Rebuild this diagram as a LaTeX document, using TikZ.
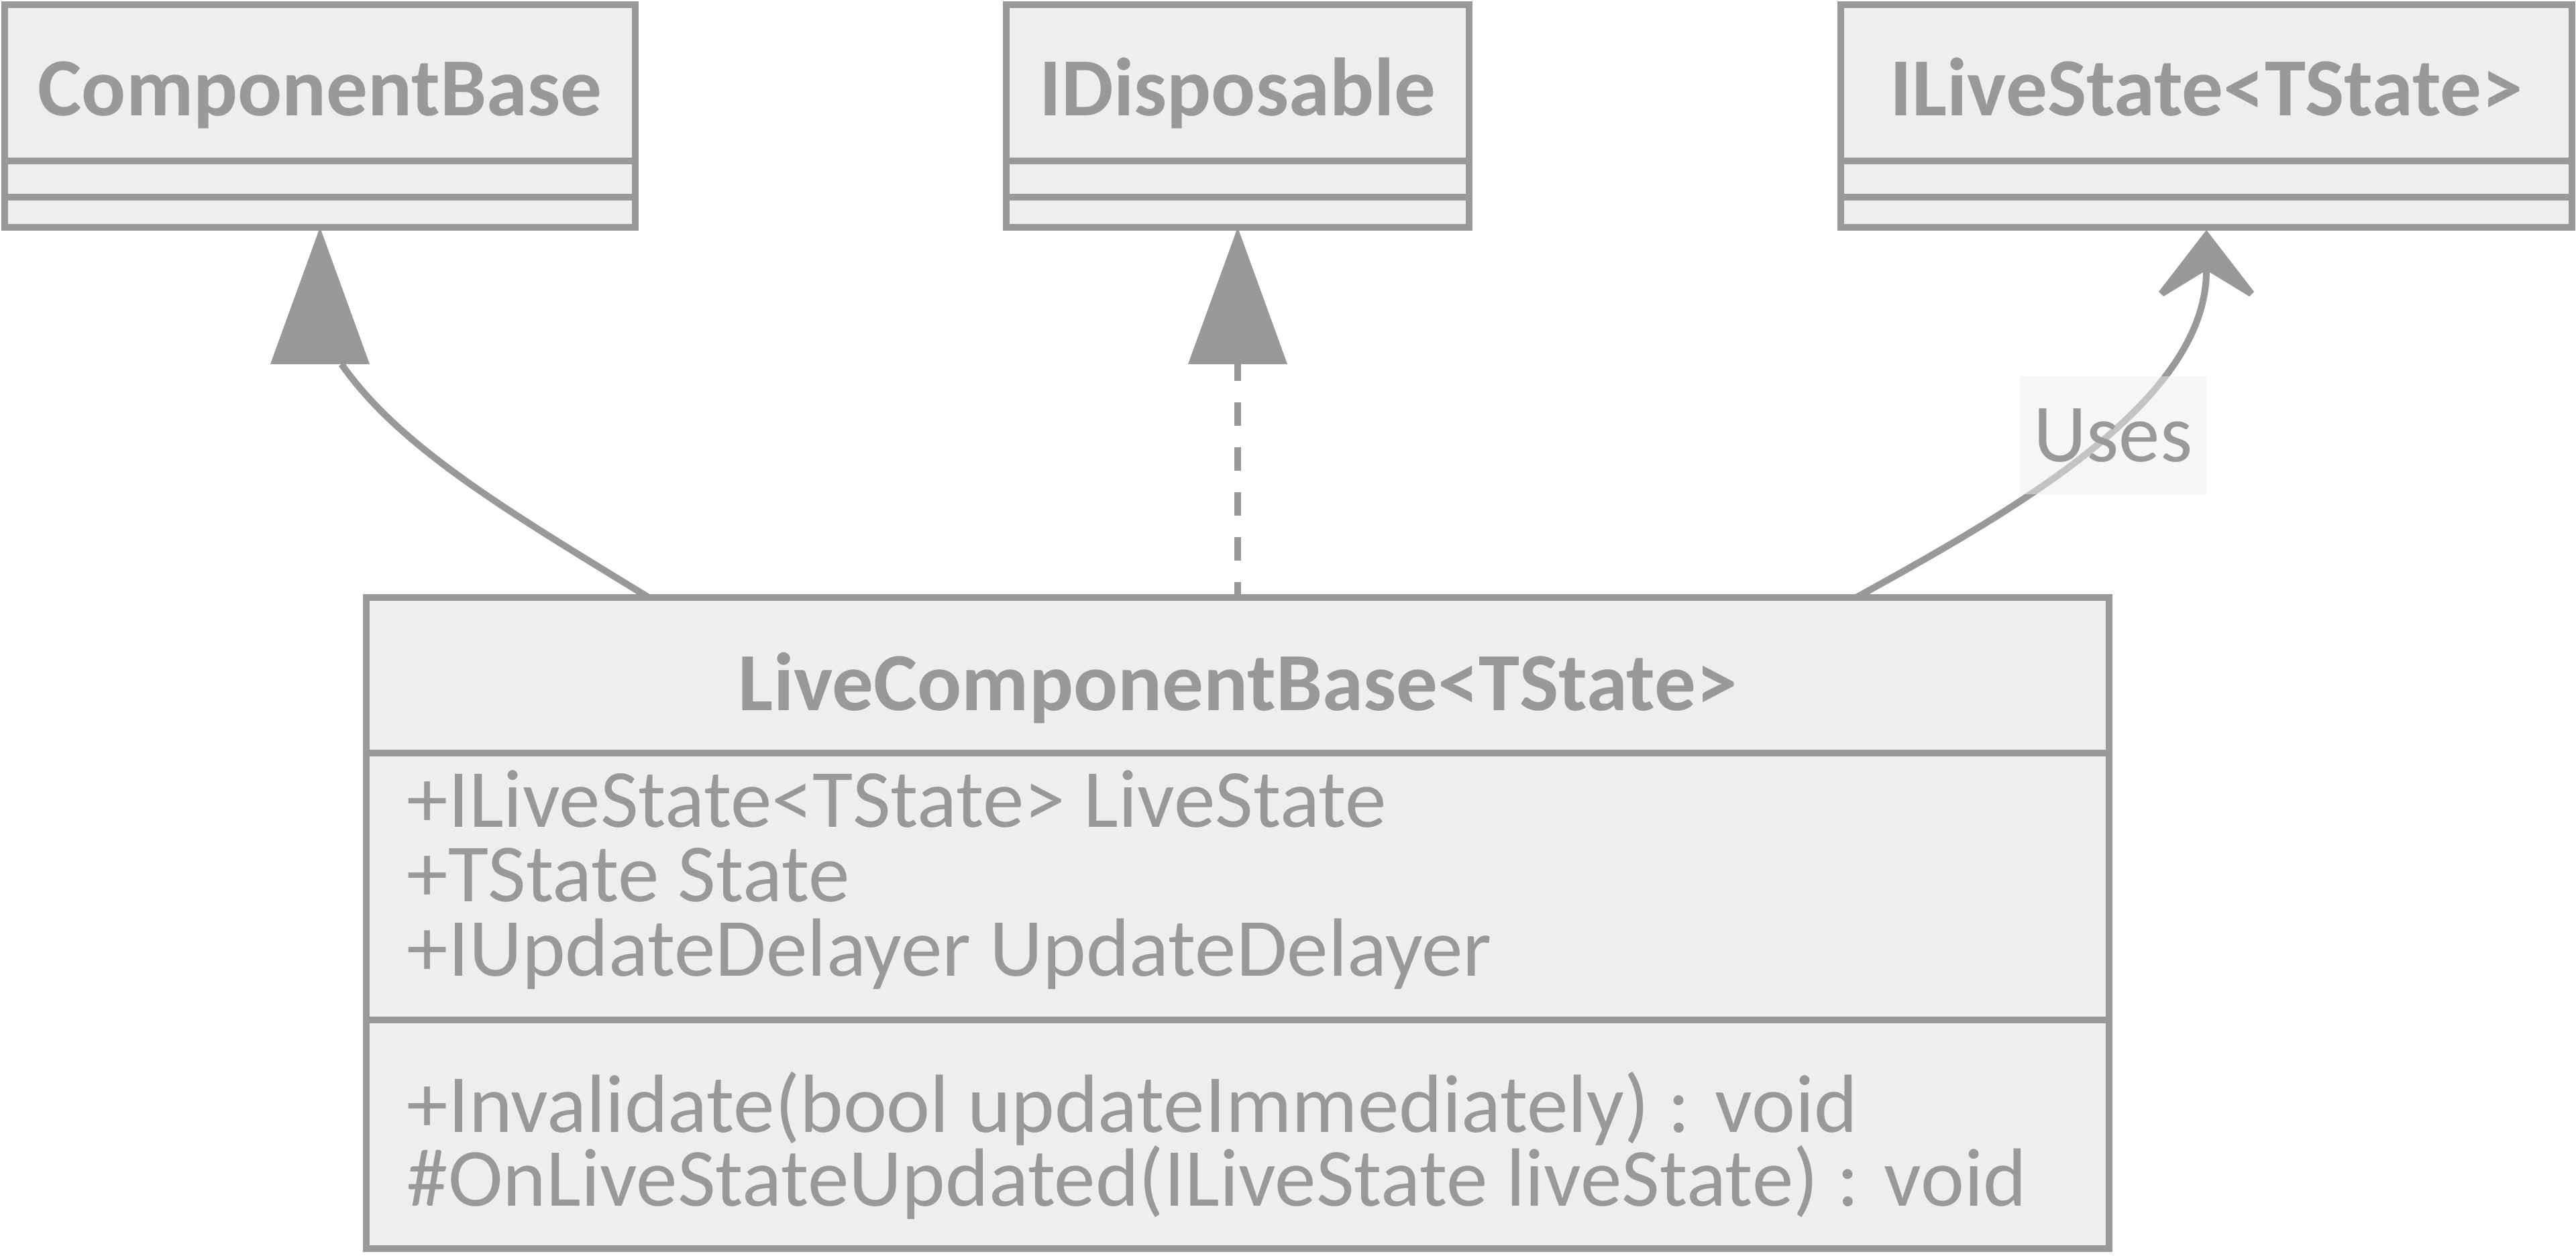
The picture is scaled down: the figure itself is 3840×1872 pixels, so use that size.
\documentclass[tikz,border=0pt]{standalone}
\usepackage{fontspec}
\setmainfont{Carlito}
\usetikzlibrary{calc}
\definecolor{umlline}{HTML}{999999}
\definecolor{umlfill}{HTML}{EEEEEE}
\definecolor{umltext}{HTML}{999999}
\begin{document}
\begin{tikzpicture}[x=0.25pt,y=-0.25pt,
  classbox/.style={draw=umlline, fill=umlfill, line width=2.5pt, inner sep=0pt, outer sep=0pt, rectangle},
  sepline/.style={draw=umlline, line width=2.5pt},
  classtitle/.style={text=umltext, font=\fontsize{30.8}{34}\selectfont\bfseries, inner sep=0pt, anchor=base},
  member/.style={text=umltext, font=\fontsize{30.8}{34}\selectfont, inner sep=0pt, anchor=base west},
  conn/.style={draw=umlline, line width=2.5pt},
  dashconn/.style={conn, dash pattern=on 8.75pt off 8pt, dash phase=3pt},
  headfill/.style={fill=umlline, draw=none},
  edgelabel/.style={fill=umlfill, fill opacity=0.5, text opacity=1, text=umltext, font=\fontsize{30.8}{34}\selectfont, inner sep=0pt, minimum width=69.5pt, minimum height=44pt},
]
\useasboundingbox (0,0) rectangle (3840,1872);
\fill[white] (0,0) rectangle (3840,1872);

% class boxes
\node[classbox, minimum width=235pt, minimum height=83pt] (cb) at (477,173) {};
\node[classbox, minimum width=172.5pt, minimum height=83pt] (id) at (1845,173) {};
\node[classbox, minimum width=272.5pt, minimum height=83pt] (il) at (3289,173) {};
\node[classbox, minimum width=649.5pt, minimum height=242.75pt] (lcb) at (1845,1376.5) {};

% compartment separators
\draw[sepline] (cb.west |- 0,240) -- (cb.east |- 0,240);
\draw[sepline] (cb.west |- 0,294) -- (cb.east |- 0,294);
\draw[sepline] (id.west |- 0,240) -- (id.east |- 0,240);
\draw[sepline] (id.west |- 0,294) -- (id.east |- 0,294);
\draw[sepline] (il.west |- 0,240) -- (il.east |- 0,240);
\draw[sepline] (il.west |- 0,294) -- (il.east |- 0,294);
\draw[sepline] (lcb.west |- 0,1123) -- (lcb.east |- 0,1123);
\draw[sepline] (lcb.west |- 0,1521) -- (lcb.east |- 0,1521);

% titles
\node[classtitle] (cbt) at (477,173) {ComponentBase};
\node[classtitle] (idt) at (1845,173) {IDisposable};
\node[classtitle] (ilt) at (3289,173) {ILiveState<TState>};
\node[classtitle] (lcbt) at (1845,1059) {LiveComponentBase<TState>};

% members
\node[member] (a1) at (606,1233) {+ILiveState<TState> LiveState};
\node[member] (a2) at (606,1344) {+TState State};
\node[member] (a3) at (606,1455) {+IUpdateDelayer UpdateDelayer};
\node[member] (m1) at (606,1688) {+Invalidate(bool updateImmediately) : void};
\node[member] (m2) at (606,1798) {\#OnLiveStateUpdated(ILiveState liveState) : void};

% inheritance: LiveComponentBase -> ComponentBase
\coordinate (s1) at ($(lcb.north west)+(421,0)$);
\coordinate (e1) at ($(cb.south)+(32,204)$);
\draw[conn] (s1) .. controls (753,760) and (595,666) .. (e1);
\fill[headfill] (cb.south) -- ++(-74,204) -- ++(148,0) -- cycle;

% realization: LiveComponentBase -> IDisposable
\coordinate (s2) at (lcb.north);
\coordinate (e2) at ($(id.south)+(0,204)$);
\draw[dashconn] (s2) -- (e2);
\fill[headfill] (id.south) -- ++(-74,204) -- ++(148,0) -- cycle;

% dependency: LiveComponentBase -> ILiveState<TState>
\coordinate (s3) at ($(lcb.north west)+(2221,0)$);
\coordinate (e3) at ($(il.south)+(0,64)$);
\draw[conn] (s3) .. controls (3000,762) and (3289,600) .. (e3);
\fill[headfill] ($(il.south)+(0,4)$) -- ++(71,92) -- ++(-7,7) -- (e3) -- ($(il.south)+(-64,103)$) -- ++(-7,-7) -- cycle;

% edge label
\node[edgelabel] (uses) at (3150,649) {Uses};
\end{tikzpicture}
\end{document}
